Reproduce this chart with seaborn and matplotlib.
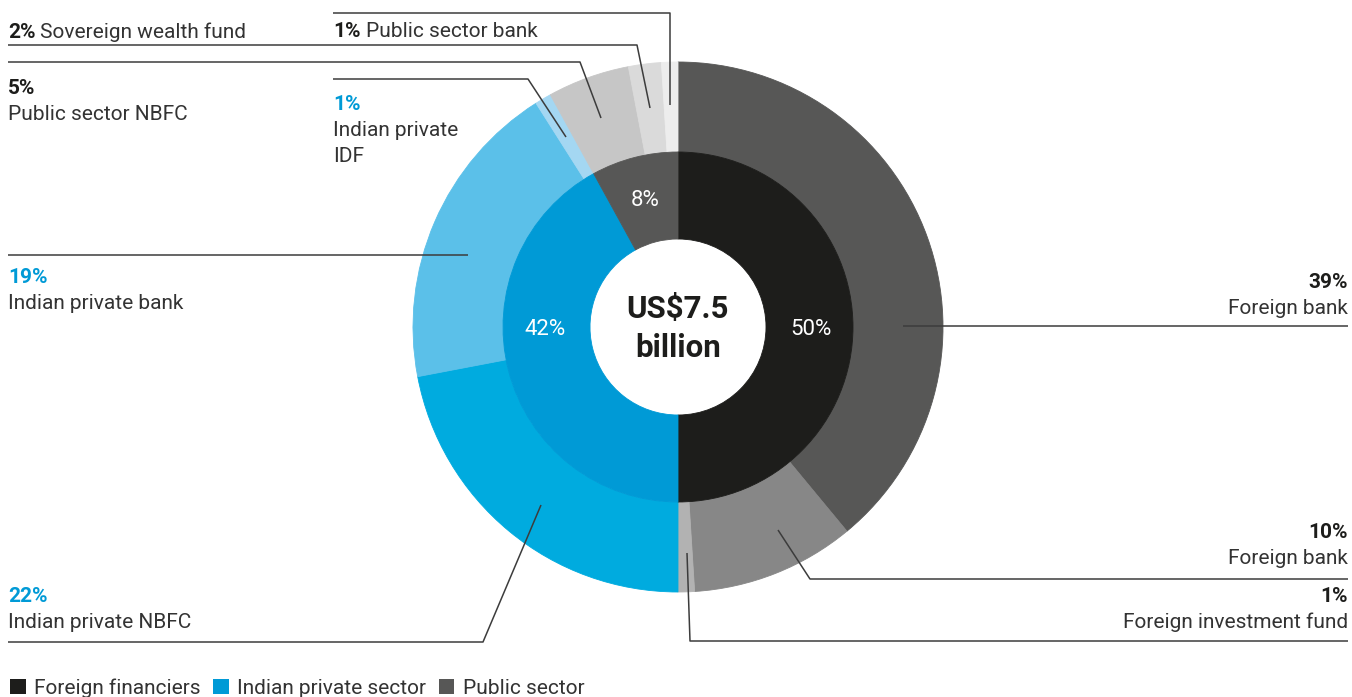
import matplotlib
matplotlib.use("Agg")
import matplotlib.pyplot as plt
import seaborn as sns
from matplotlib.patches import Patch

# data
inner_labels = ["Foreign financiers", "Indian private sector", "Public sector"]
inner_values = [50, 42, 8]
inner_colors = ["#1d1d1b", "#009ad6", "#575756"]

outer_labels = ["Foreign bank", "Foreign bank", "Foreign investment fund",
                "Indian private NBFC", "Indian private bank", "Indian private\nIDF",
                "Public sector NBFC", "Sovereign wealth fund", "Public sector bank"]
outer_values = [39, 10, 1, 22, 19, 1, 5, 2, 1]
outer_colors = ["#575756", "#878787", "#b2b2b2",
                "#00abdf", "#5bc0e9", "#a4d7f2",
                "#c6c6c6", "#dadada", "#ededed"]
outer_group = [0, 0, 0, 1, 1, 1, 2, 2, 2]

total_label = ["US$7.5", "billion"]

sns.set_style("white")
plt.rcParams["font.family"] = ["Roboto", "DejaVu Sans"]

W, H = 1352, 697
fig = plt.figure(figsize=(W / 100, H / 100), dpi=100)
ax = fig.add_axes([0, 0, 1, 1])

cx, cy = 678, 327
r_out, r_mid, r_in = 265, 175, 88

# y axis is inverted below: visual top is 270 deg, visual clockwise is data counterclockwise
outer_w, _ = ax.pie(outer_values, colors=outer_colors, radius=r_out, center=(cx, cy),
                    startangle=270, counterclock=True, frame=True,
                    wedgeprops=dict(width=r_out - r_mid, linewidth=0.6))
inner_w, _, inner_txt = ax.pie(inner_values, colors=inner_colors, radius=r_mid, center=(cx, cy),
                               startangle=270, counterclock=True, frame=True,
                               autopct=lambda p: f"{p:.0f}%", pctdistance=0.76,
                               textprops=dict(color="white", fontsize=16),
                               wedgeprops=dict(width=r_mid - r_in, linewidth=0.6))
for w in list(outer_w) + list(inner_w):
    w.set_edgecolor(w.get_facecolor())
for t in inner_txt:
    t.set_va("center_baseline")
# the 42% label sits level with the centre in the original
inner_txt[1].set_position((cx - 0.76 * r_mid, cy))

ax.set_xlim(0, W)
ax.set_ylim(H, 0)  # pixel coords, y down
ax.set_aspect("equal")
ax.axis("off")

ax.text(cx, 318, total_label[0], ha="center", va="baseline", fontsize=22.5,
        fontweight="bold", color="#1d1d1b")
ax.text(cx, 357, total_label[1], ha="center", va="baseline", fontsize=22.5,
        fontweight="bold", color="#1d1d1b")

# label layout: index into outer arrays, text anchor x, pct baseline, ha, inline, leader polyline
line_c = "#3c3c3c"
dark = "#1d1d1b"
blue = "#009ad6"
txt_c = "#333333"
fs = 15
layout = [
    (0, 1348, 288, "right", False, [(1348, 326), (903, 326)]),
    (1, 1348, 538, "right", False, [(1348, 579), (810, 579), (778, 530)]),
    (2, 1348, 602, "right", False, [(1348, 641), (690, 641), (687, 553)]),
    (3, 8, 602, "left", False, [(8, 642), (483, 642), (541, 505)]),
    (4, 8, 283, "left", False, [(8, 255), (468, 255)]),
    (5, 333, 110, "left", False, [(333, 79), (528, 79), (566, 137)]),
    (6, 8, 94, "left", False, [(8, 62), (580, 62), (601, 118)]),
    (7, 8, 38, "left", True, [(8, 45), (637, 45), (650, 108)]),
    (8, 333, 37, "left", True, [(333, 13), (670, 13), (670, 105)]),
]

fig.canvas.draw()
renderer = fig.canvas.get_renderer()
for idx, tx, ty, ha, inline, pts in layout:
    pct = f"{outer_values[idx]}%"
    name = outer_labels[idx]
    pc = blue if outer_group[idx] == 1 else dark
    xs, ys = zip(*pts)
    ax.plot(xs, ys, color=line_c, lw=1.1, solid_capstyle="butt")
    t = ax.text(tx, ty, pct, ha=ha, va="baseline", fontsize=fs,
                fontweight="bold", color=pc)
    if inline:
        bb = t.get_window_extent(renderer)
        ax.annotate(name, (tx, ty), xytext=(bb.width + 5, 0), textcoords="offset pixels",
                    ha="left", va="baseline", fontsize=fs, color=txt_c)
    else:
        for k, line in enumerate(name.split("\n")):
            ax.text(tx, ty + 26 * (k + 1), line, ha=ha, va="baseline",
                    fontsize=fs, color=txt_c)

handles = [Patch(facecolor=c, edgecolor="none", label=l)
           for l, c in zip(inner_labels, inner_colors)]
fig.legend(handles=handles, loc="upper left", bbox_to_anchor=(6 / W, 1 - 674 / H),
           ncol=3, frameon=False, fontsize=fs, handlelength=0.75, handleheight=0.75,
           handletextpad=0.4, columnspacing=0.6, borderaxespad=0, borderpad=0.2,
           labelcolor=txt_c)

fig.savefig("out.png", dpi=100)
